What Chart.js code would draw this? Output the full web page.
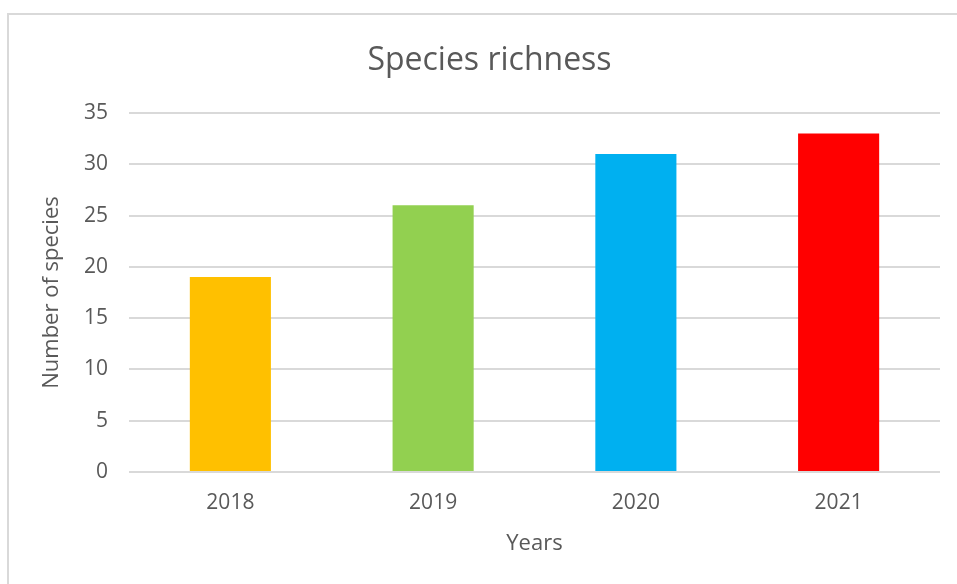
<!DOCTYPE html>
<html>
<head>
<meta charset="utf-8">
<script src="https://cdn.jsdelivr.net/npm/chart.js@4"></script>
<style>
  html, body { margin: 0; padding: 0; background: #fff; overflow: hidden; }
  #wrap { position: relative; width: 957px; height: 584px; }
  #frame { position: absolute; left: 7px; top: 13px; width: 2000px; height: 2000px; border: 2px solid #d9d9d9; }
  #chart { position: absolute; left: 0; top: 0; }
</style>
</head>
<body>
<div id="wrap">
  <div id="frame"></div>
  <canvas id="chart" width="957" height="584"></canvas>
</div>
<script>
const years = ["2018", "2019", "2020", "2021"];
const species = [19, 26, 31, 33];
const barColors = ["#ffc000", "#92d050", "#00b0f0", "#ff0000"];
const yTicks = [0, 5, 10, 15, 20, 25, 30, 35];

const textColor = "#595959";
const font = "'Open Sans', sans-serif";

new Chart(document.getElementById("chart"), {
  type: "bar",
  data: {
    labels: years,
    datasets: [
      {
        data: species,
        backgroundColor: barColors,
        categoryPercentage: 1,
        barPercentage: 0.4,
      },
    ],
  },
  options: {
    responsive: false,
    animation: false,
    layout: { padding: { left: 39, right: 17, top: 0, bottom: 0 } },
    plugins: {
      legend: { display: false },
      tooltip: { enabled: false },
      title: {
        display: true,
        text: "Species richness",
        color: textColor,
        font: { family: font, size: 32, weight: "normal", lineHeight: 1.2 },
        padding: { top: 41.5, bottom: 33.1 },
      },
    },
    scales: {
      x: {
        grid: { display: false, drawTicks: false },
        border: { display: false },
        ticks: { color: textColor, font: { family: font, size: 21 }, padding: 18.5 },
        title: {
          display: true,
          text: "Years",
          color: textColor,
          font: { family: font, size: 22, lineHeight: 1.2 },
          padding: { top: 0, bottom: 27 },
        },
        afterFit: (s) => { s.height = 112; },
      },
      y: {
        min: yTicks[0],
        max: yTicks[yTicks.length - 1],
        grid: { color: "#d9d9d9", lineWidth: 2, drawTicks: false },
        border: { display: false },
        afterBuildTicks: (s) => { s.ticks = yTicks.map((v) => ({ value: v })); },
        ticks: { color: textColor, font: { family: font, size: 21 }, padding: 21 },
        title: {
          display: true,
          text: "Number of species",
          color: textColor,
          font: { family: font, size: 22, lineHeight: 1.2 },
          padding: { top: 0, bottom: 0 },
        },
        afterFit: (s) => { s.width = 90; },
      },
    },
  },
});
</script>
</body>
</html>
